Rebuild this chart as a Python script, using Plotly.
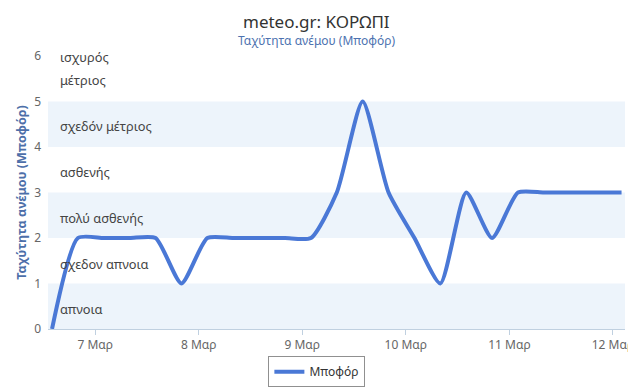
import plotly.graph_objects as go
import pandas as pd

# ---- data ----
start_time = "2024-03-06 14:00"
step_hours = 6
beaufort = [0, 2, 2, 2, 2, 1, 2, 2, 2, 2, 2, 3, 5, 3, 2, 1, 3, 2, 3, 3, 3, 3, 3]
times = pd.date_range(start=start_time, periods=len(beaufort), freq=f"{step_hours}h")

tick_dates = ["2024-03-07", "2024-03-08", "2024-03-09", "2024-03-10", "2024-03-11", "2024-03-12"]
tick_labels = ["7 Μαρ", "8 Μαρ", "9 Μαρ", "10 Μαρ", "11 Μαρ", "12 Μαρ"]

band_ranges = [(0, 1), (2, 3), (4, 5)]
band_label_names = ["απνοια", "σχεδον απνοια", "πολύ ασθενής", "ασθενής", "σχεδόν μέτριος", "μέτριος", "ισχυρός"]
band_label_y = [0.44, 1.43, 2.45, 3.46, 4.46, 5.47, 5.97]

series_name = "Μποφόρ"
title_text = "meteo.gr: ΚΟΡΩΠΙ"
subtitle_text = "Ταχύτητα ανέμου (Μποφόρ)"
y_title = "Ταχύτητα ανέμου (Μποφόρ)"

FONT = "Noto Sans, DejaVu Sans, Arial"

fig = go.Figure()
fig.add_trace(go.Scatter(
    x=times, y=beaufort, mode="lines", name=series_name,
    line=dict(color="#4a78d6", width=4, shape="spline", smoothing=0.6),
    cliponaxis=False,
))

shapes = []
for lo, hi in band_ranges:
    shapes.append(dict(type="rect", xref="paper", yref="y", x0=0, x1=1, y0=lo, y1=hi,
                       fillcolor="#edf4fb", line=dict(width=0), layer="below"))

annotations = []
for name, yv in zip(band_label_names, band_label_y):
    annotations.append(dict(text=name, xref="paper", yref="y", x=0.017, y=yv,
                            xanchor="left", yanchor="middle", showarrow=False,
                            font=dict(family=FONT, size=12.8, color="#444444")))
annotations.append(dict(text=title_text, xref="paper", yref="paper", x=0.466, xanchor="center",
                        y=1, yanchor="bottom", yshift=22, showarrow=False, borderpad=0,
                        font=dict(family=FONT, size=17, color="#333333")))
annotations.append(dict(text=subtitle_text, xref="paper", yref="paper", x=0.466, xanchor="center",
                        y=1, yanchor="bottom", yshift=6, showarrow=False, borderpad=0,
                        font=dict(family=FONT, size=12, color="#4d72b0")))

fig.update_layout(
    width=628, height=381,
    margin=dict(l=40, r=11, t=48, b=60, autoexpand=False),
    paper_bgcolor="white", plot_bgcolor="white",
    shapes=shapes, annotations=annotations,
    font=dict(family=FONT, color="#666666", size=12),
    showlegend=True,
    legend=dict(orientation="h", x=0.466, xanchor="center", y=-0.1, yanchor="top",
                bordercolor="#909090", borderwidth=1, itemwidth=30,
                font=dict(family=FONT, size=12, color="#333333")),
    xaxis=dict(
        range=["2024-03-06 13:04", "2024-03-12 02:48"],
        tickmode="array", tickvals=tick_dates, ticktext=tick_labels,
        showgrid=False, zeroline=False, automargin=False,
        showline=True, linecolor="#c0d0e0", linewidth=1,
        ticks="outside", ticklen=5, tickcolor="#c0d0e0",
        tickfont=dict(family=FONT, size=12, color="#666666"),
    ),
    yaxis=dict(
        range=[0, 6], tickmode="array", tickvals=[0, 1, 2, 3, 4, 5, 6],
        showgrid=False, zeroline=False, showline=False, automargin=False,
        ticks="", ticklabelstandoff=6,
        tickfont=dict(family=FONT, size=12, color="#666666"),
        title=dict(text="<b>" + y_title + "</b>", standoff=4,
                   font=dict(family=FONT, size=12.5, color="#4d6fa9")),
    ),
)

fig.write_html("out.html")
